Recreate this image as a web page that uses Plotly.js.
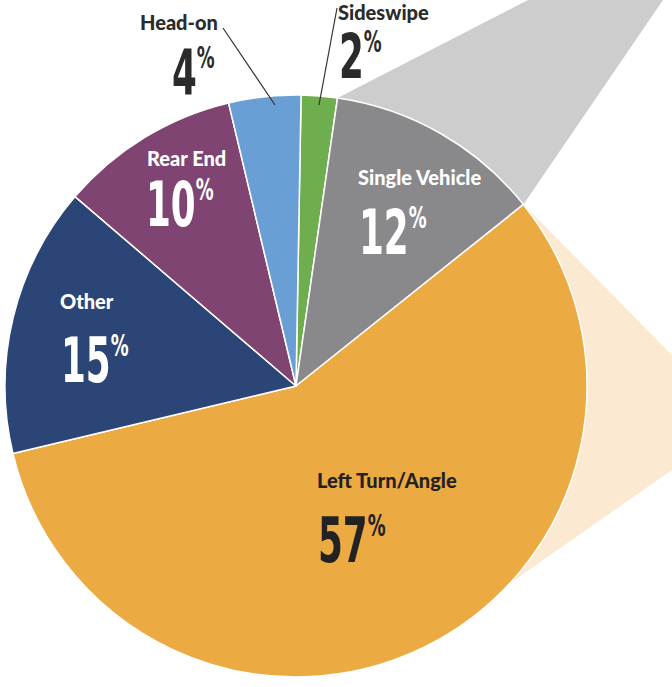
<!DOCTYPE html>
<html>
<head>
<meta charset="utf-8">
<script src="https://cdn.plot.ly/plotly-3.0.1.min.js"></script>
<style>
  html, body { margin: 0; padding: 0; background: #ffffff; }
  #chart { width: 672px; height: 687px; }
  /* condensed display face for the big percentages */
  text.annotation-text[style*="DejaVu"] {
    font-stretch: condensed;
    transform-box: fill-box;
    transform-origin: center;
    transform: scaleX(0.64);
  }
</style>
</head>
<body>
<div id="chart"></div>
<script>
// ---- data ----
const categories = ["Sideswipe", "Single Vehicle", "Left Turn/Angle", "Other", "Rear End", "Head-on"];
const shares = [2, 12, 57, 15, 10, 4];
const sliceColors = ["#6fae4f", "#89898c", "#ecaa43", "#2c4577", "#7f4472", "#699fd5"];

// ---- layout helpers (pixels -> paper) ----
const W = 672, H = 687;
const CX = 296, CY = 386, R = 291;   // pie centre and radius in pixels
const ROT = 1;                       // degrees clockwise from 12 o'clock
function px(x) { return x / W; }
function py(y) { return 1 - y / H; }
function pt(x, y) { return px(x).toFixed(5) + "," + py(y).toFixed(5); }
function edgePoint(deg) {
  const a = deg * Math.PI / 180;
  return [CX + R * Math.sin(a), CY - R * Math.cos(a)];
}
// cumulative boundary angles computed from the shares
const total = shares.reduce((a, b) => a + b, 0);
const bounds = [ROT];
shares.forEach((v, i) => bounds.push(bounds[i] + v / total * 360));

// callout wedges behind the pie
const g1 = edgePoint(bounds[1]), g2 = edgePoint(bounds[2]);
const grayPath = "M" + pt(CX, CY) + " L" + pt(g1[0], g1[1]) + " L" + pt(528, 0) +
                 " L" + pt(663, 0) + " L" + pt(g2[0], g2[1]) + " Z";
const orangePath = "M" + pt(CX, CY) + " L" + pt(g2[0], g2[1]) + " L" + pt(672, 355) +
                   " L" + pt(672, 470) + " L" + pt(450, 625) + " Z";

// label placement (pixels): [name x, name y, pct x, pct y, colour]
const labelPos = [
  [383, 12, 360, 56, "#2b2b2b"],
  [419, 177, 393, 232, "#ffffff"],
  [387, 480, 352, 540, "#222222"],
  [87, 301, 95, 360, "#ffffff"],
  [186, 158, 180, 204, "#ffffff"],
  [179, 22, 194, 73, "#2b2b2b"]
];

const nameFont = { family: "Lato", size: 20, weight: 900 };
const pctFont = { family: "DejaVu Sans", size: 62, weight: 700 };

const annotations = [];
categories.forEach((c, i) => {
  const p = labelPos[i];
  annotations.push({
    x: px(p[0]), y: py(p[1]), xref: "paper", yref: "paper",
    text: c, showarrow: false, xanchor: "center", yanchor: "middle",
    font: Object.assign({}, nameFont, { color: p[4] })
  });
  annotations.push({
    x: px(p[2]), y: py(p[3]), xref: "paper", yref: "paper",
    text: shares[i] + '<sup><span style="font-size:31px">%</span></sup>',
    showarrow: false, xanchor: "center", yanchor: "middle",
    font: Object.assign({}, pctFont, { color: p[4] })
  });
});

const shapes = [
  { type: "path", xref: "paper", yref: "paper", path: grayPath, fillcolor: "#cdcdce", line: { width: 0 }, layer: "below" },
  { type: "path", xref: "paper", yref: "paper", path: orangePath, fillcolor: "#fbe9d1", line: { width: 0 }, layer: "below" },
  { type: "line", xref: "paper", yref: "paper", x0: px(223), y0: py(28), x1: px(275), y1: py(105), line: { color: "#333333", width: 1.2 } },
  { type: "line", xref: "paper", yref: "paper", x0: px(337), y0: py(8), x1: px(319), y1: py(105), line: { color: "#333333", width: 1.2 } }
];

const trace = {
  type: "pie",
  labels: categories,
  values: shares,
  sort: false,
  direction: "clockwise",
  rotation: ROT,
  textinfo: "none",
  hoverinfo: "label+percent",
  marker: { colors: sliceColors, line: { color: "#ffffff", width: 1.5 } },
  domain: { x: [px(CX - R), px(CX + R)], y: [py(CY + R), py(CY - R)] },
  showlegend: false
};

const layout = {
  width: W, height: H,
  margin: { l: 0, r: 0, t: 0, b: 0, pad: 0 },
  paper_bgcolor: "#ffffff",
  plot_bgcolor: "#ffffff",
  showlegend: false,
  shapes: shapes,
  annotations: annotations
};

Plotly.newPlot("chart", [trace], layout, { displayModeBar: false });
</script>
</body>
</html>
